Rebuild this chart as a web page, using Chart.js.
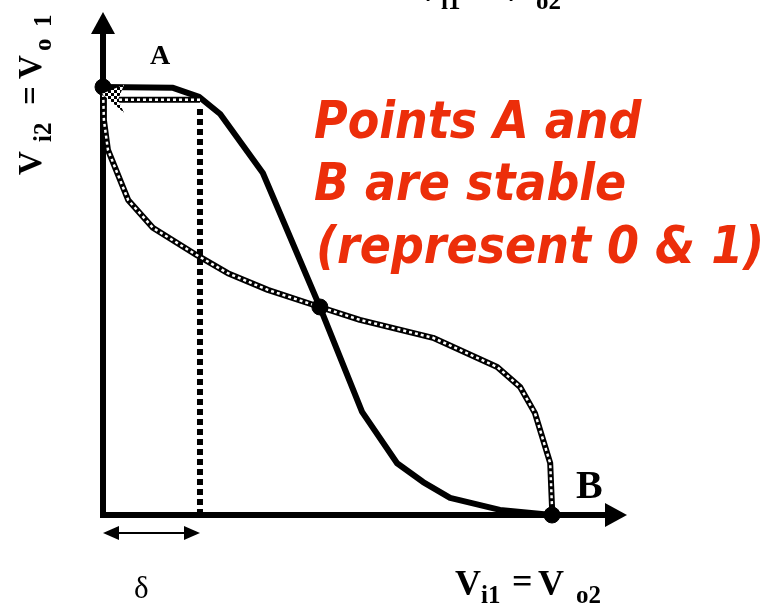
<!DOCTYPE html>
<html>
<head>
<meta charset="utf-8">
<script src="https://cdn.jsdelivr.net/npm/chart.js@4/dist/chart.umd.min.js"></script>
<style>
body { margin: 0; background: #fff; }
</style>
</head>
<body>
<canvas id="butterflyChart" width="780" height="605"></canvas>
<script>
// inverter 1: Vo1 against Vi1 (normalised)
var solid_x = [0, 0.156, 0.214, 0.261, 0.356, 0.483, 0.577, 0.655, 0.713, 0.773, 0.884, 1.0];
var solid_y = [1.0, 0.998, 0.977, 0.937, 0.799, 0.486, 0.241, 0.121, 0.077, 0.040, 0.012, 0];

// inverter 2 mirrored: Vi2 against Vo2
var dotted_x = [0, 0.002, 0.011, 0.056, 0.111, 0.209, 0.278, 0.367, 0.483, 0.572, 0.735, 0.878, 0.929, 0.962, 0.996, 1.0, 1.0];
var dotted_y = [0.998, 0.923, 0.853, 0.736, 0.671, 0.607, 0.565, 0.526, 0.486, 0.456, 0.414, 0.346, 0.299, 0.238, 0.121, 0.019, 0];

// operating points A, metastable, B
var point_x = [0, 0.483, 1.0];
var point_y = [1.0, 0.486, 0];
var point_r = [8, 8, 8];

// delta (noise) construction
var delta_x = 0.216;
var delta_y = 0.970;

// axis arrow ends
var axis_x_end = 1.167;
var axis_y_end = 1.175;

function pts(xs, ys) {
  return xs.map(function (x, i) { return { x: x, y: ys[i] }; });
}

var checker = document.createElement('canvas');
checker.width = 6; checker.height = 6;
var cc = checker.getContext('2d');
cc.fillStyle = '#fff'; cc.fillRect(0, 0, 6, 6);
cc.fillStyle = '#000'; cc.fillRect(0, 0, 3, 3); cc.fillRect(3, 3, 3, 3);

function arrowHead(ctx, tx, ty, dir, len, half) {
  ctx.beginPath();
  ctx.moveTo(tx, ty);
  ctx.lineTo(tx - dir * len, ty - half);
  ctx.lineTo(tx - dir * len, ty + half);
  ctx.closePath();
  ctx.fill();
}

var decor = {
  id: 'decor',
  beforeDatasetsDraw: function (chart) {
    var ctx = chart.ctx, sx = chart.scales.x, sy = chart.scales.y;
    var x0 = sx.getPixelForValue(0), y0 = sy.getPixelForValue(0);
    var xe = sx.getPixelForValue(axis_x_end), ye = sy.getPixelForValue(axis_y_end);
    ctx.save();
    ctx.fillStyle = '#000';
    ctx.strokeStyle = '#000';
    ctx.lineWidth = 6;
    ctx.beginPath();
    ctx.moveTo(x0, y0 + 3); ctx.lineTo(x0, ye + 18);
    ctx.moveTo(x0 - 3, y0); ctx.lineTo(xe - 18, y0);
    ctx.stroke();
    // y arrow
    ctx.beginPath();
    ctx.moveTo(x0, ye); ctx.lineTo(x0 - 12, ye + 22); ctx.lineTo(x0 + 12, ye + 22); ctx.closePath(); ctx.fill();
    // x arrow
    ctx.beginPath();
    ctx.moveTo(xe, y0); ctx.lineTo(xe - 22, y0 - 12); ctx.lineTo(xe - 22, y0 + 12); ctx.closePath(); ctx.fill();

    // delta span arrow under the x axis
    var xd = sx.getPixelForValue(delta_x);
    var ya = y0 + 18;
    ctx.lineWidth = 2;
    ctx.beginPath(); ctx.moveTo(x0 + 8, ya); ctx.lineTo(xd - 8, ya); ctx.stroke();
    arrowHead(ctx, x0, ya, -1, 16, 7);
    arrowHead(ctx, xd, ya, 1, 16, 7);
    ctx.restore();
  },
  afterDatasetsDraw: function (chart) {
    var ctx = chart.ctx, sx = chart.scales.x, sy = chart.scales.y;
    var x0 = sx.getPixelForValue(0), yh = sy.getPixelForValue(delta_y);
    ctx.save();
    // checkered arrow head pointing back to A
    ctx.fillStyle = ctx.createPattern(checker, 'repeat');
    ctx.beginPath();
    ctx.moveTo(x0 - 1, yh - 6);
    ctx.lineTo(x0 + 21, yh - 15);
    ctx.lineTo(x0 + 15, yh);
    ctx.lineTo(x0 + 21, yh + 13);
    ctx.closePath();
    ctx.fill();

    ctx.fillStyle = '#000';
    ctx.textBaseline = 'alphabetic';
    ctx.font = 'bold 28px "Liberation Serif"';
    ctx.fillText('A', 150, 64);
    ctx.font = 'bold 40px "Liberation Serif"';
    ctx.fillText('B', 576, 498);
    ctx.font = '31px "Liberation Serif"';
    ctx.fillText('\u03b4', 134, 598);

    // x label (bottom) and its clipped copy at the top
    [[0, 0], [-40, -594]].forEach(function (o) {
      var dx = o[0], dy = o[1];
      ctx.font = 'bold 36px "Liberation Serif"';
      ctx.fillText('V', 455 + dx, 595 + dy);
      ctx.fillText('=', 512 + dx, 593 + dy);
      ctx.fillText('V', 538 + dx, 595 + dy);
      ctx.font = 'bold 25px "Liberation Serif"';
      ctx.fillText('i1', 481 + dx, 603 + dy);
      ctx.fillText('o2', 576 + dx, 603 + dy);
    });

    // y label, rotated
    ctx.save();
    ctx.translate(41, 175);
    ctx.rotate(-Math.PI / 2);
    ctx.font = 'bold 33px "Liberation Serif"';
    ctx.fillText('V', 0, 0);
    ctx.fillText('=', 70, 0);
    ctx.fillText('V', 96, 0);
    ctx.font = 'bold 25px "Liberation Serif"';
    ctx.fillText('i2', 33, 10);
    ctx.fillText('o', 124, 10);
    ctx.fillText('1', 148, 10);
    ctx.restore();

    // red note
    ctx.fillStyle = '#ec2e0a';
    ctx.font = 'italic bold 100px "DejaVu Sans"';
    var w = ctx.measureText('(represent 0 & 1)').width;
    var fs = 100 * 448 / w;
    ctx.font = 'italic bold ' + fs.toFixed(1) + 'px "DejaVu Sans"';
    var lines = [['Points A and', 314, 138], ['B are stable', 314, 200], ['(represent 0 & 1)', 316, 263]];
    lines.forEach(function (l) {
      ctx.save();
      ctx.translate(l[1], l[2]);
      ctx.scale(1, 1.12);
      ctx.fillText(l[0], 0, 0);
      ctx.restore();
    });
    ctx.restore();
  }
};

var ctx = document.getElementById('butterflyChart').getContext('2d');
var chart = new Chart(ctx, {
  type: 'scatter',
  data: {
    datasets: [{
        label: 'points',
        data: pts(point_x, point_y),
        backgroundColor: '#000',
        borderColor: '#000',
        pointRadius: point_r,
        showLine: false,
        order: 0
      }, {
        label: 'inverter 2 dots',
        data: pts(dotted_x, dotted_y),
        showLine: true,
        borderColor: '#fff',
        borderWidth: 2.5,
        borderDash: [3, 3],
        pointRadius: 0,
        order: 1
      }, {
        label: 'delta horizontal dots',
        data: [{ x: delta_x, y: delta_y }, { x: 0.03, y: delta_y }],
        showLine: true,
        borderColor: '#fff',
        borderWidth: 2.5,
        borderDash: [3, 3],
        pointRadius: 0,
        order: 1
      }, {
        label: 'inverter 1',
        data: pts(solid_x, solid_y),
        showLine: true,
        borderColor: '#000',
        borderWidth: 6,
        borderJoinStyle: 'round',
        pointRadius: 0,
        order: 2
      }, {
        label: 'inverter 2',
        data: pts(dotted_x, dotted_y),
        showLine: true,
        borderColor: '#000',
        borderWidth: 6,
        borderJoinStyle: 'round',
        pointRadius: 0,
        order: 2
      }, {
        label: 'delta horizontal',
        data: [{ x: delta_x, y: delta_y }, { x: 0.03, y: delta_y }],
        showLine: true,
        borderColor: '#000',
        borderWidth: 6,
        pointRadius: 0,
        order: 2
      }, {
        label: 'delta vertical',
        data: [{ x: delta_x, y: 0 }, { x: delta_x, y: delta_y - 0.018 }],
        showLine: true,
        borderColor: '#000',
        borderWidth: 6,
        borderDash: [6, 4],
        pointRadius: 0,
        order: 3
      }
    ].map(function (d) { d.clip = false; return d; })
  },
  options: {
    responsive: false,
    animation: false,
    layout: { padding: { left: 103, right: 228, top: 87, bottom: 90 } },
    scales: {
      x: { type: 'linear', min: 0, max: 1, display: false },
      y: { type: 'linear', min: 0, max: 1, display: false }
    },
    plugins: {
      legend: { display: false },
      tooltip: { enabled: false }
    }
  },
  plugins: [decor]
});
</script>
</body>
</html>
